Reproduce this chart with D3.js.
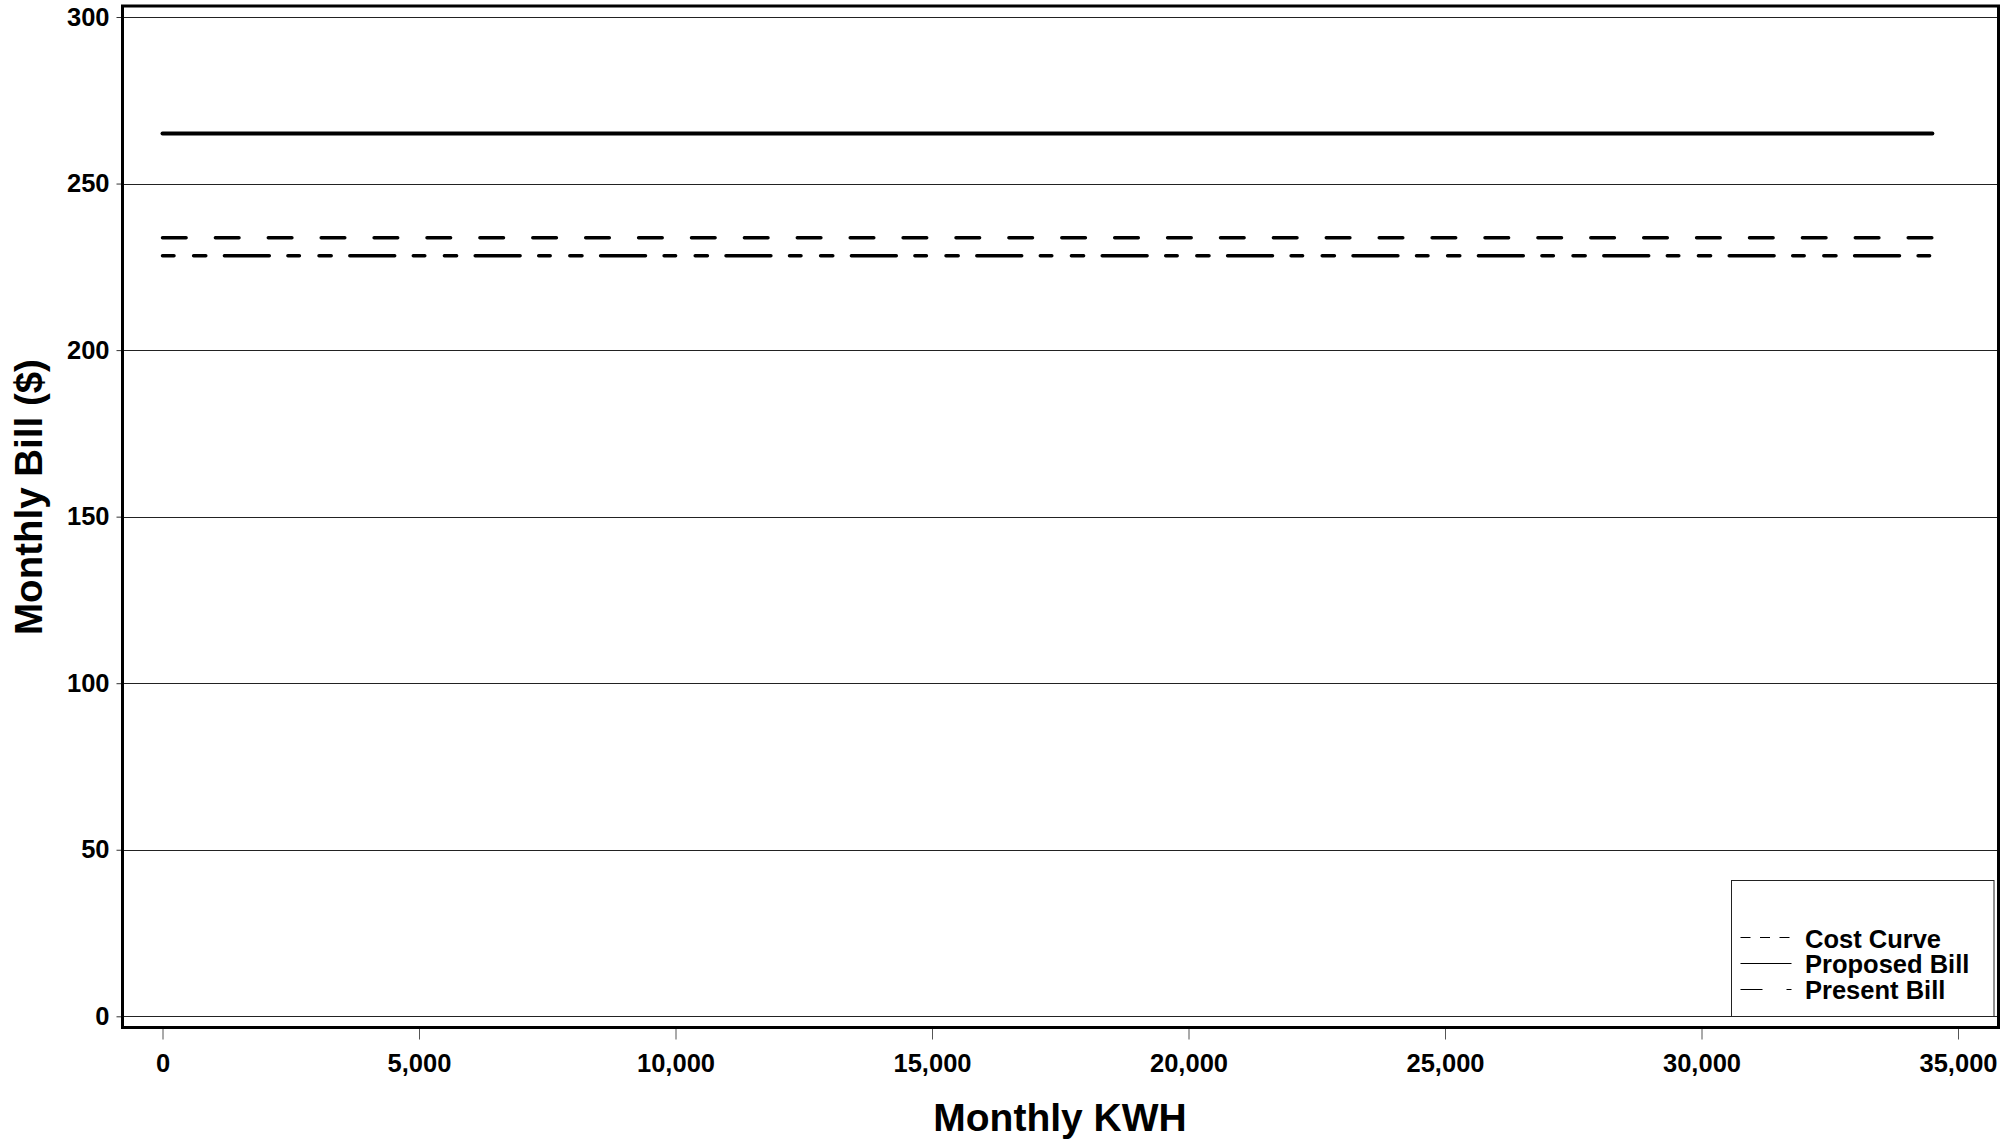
<!DOCTYPE html>
<html>
<head>
<meta charset="utf-8">
<script src="https://cdn.jsdelivr.net/npm/d3@7"></script>
<style>
  html, body { margin: 0; padding: 0; background: #fff; }
  svg { display: block; font-family: "Liberation Sans", Arial, Helvetica, sans-serif; font-weight: bold; }
</style>
</head>
<body>
<svg id="chart" width="2007" height="1142"></svg>
<script>
// ---- Data ----
const kwh = [0, 34500];
const costCurve = [233.7, 233.7];
const proposedBill = [265, 265];
const presentBill = [228.3, 228.3];
const xTicks = [0, 5000, 10000, 15000, 20000, 25000, 30000, 35000];
const yTicks = [0, 50, 100, 150, 200, 250, 300];
const seriesNames = ["Cost Curve", "Proposed Bill", "Present Bill"];

// ---- Layout ----
const svg = d3.select("#chart");
const x = d3.scaleLinear().domain([0, 35000]).range([162.5, 1958]);
const y = d3.scaleLinear().domain([0, 300]).range([1016.3, 17]);
const frame = { left: 122.5, top: 6, right: 1998.5, bottom: 1027.5 };

// gridlines
svg.append("g").selectAll("line").data(yTicks).join("line")
  .attr("x1", frame.left).attr("x2", frame.right)
  .attr("y1", d => Math.round(y(d)) + 0.5).attr("y2", d => Math.round(y(d)) + 0.5)
  .attr("stroke", "#222").attr("stroke-width", 1);

// y axis ticks + labels
const yAxis = d3.axisLeft(y).tickValues(yTicks).tickSize(5).tickPadding(7).tickFormat(d3.format("d"));
const gy = svg.append("g").attr("transform", `translate(${frame.left - 1},0)`).call(yAxis);
gy.select(".domain").remove();
gy.selectAll(".tick line").attr("stroke", "#333");
gy.selectAll(".tick text").attr("font-size", 25.5).attr("font-family", "Liberation Sans, Arial, sans-serif")
  .attr("font-weight", "bold").attr("fill", "#000");

// x axis ticks + labels
const xAxis = d3.axisBottom(x).tickValues(xTicks).tickSize(11).tickPadding(14).tickFormat(d3.format(","));
const gx = svg.append("g").attr("transform", `translate(0,${frame.bottom + 1})`).call(xAxis);
gx.select(".domain").remove();
gx.selectAll(".tick line").attr("stroke", "#555");
gx.selectAll(".tick text").attr("font-size", 25.5).attr("font-family", "Liberation Sans, Arial, sans-serif")
  .attr("font-weight", "bold").attr("fill", "#000");

// series lines
const line = d3.line().x(d => x(d[0])).y(d => y(d[1]));
const series = [
  { name: seriesNames[0], vals: costCurve, width: 3.5, dash: "23.6 29.3", legDash: "10 9.5" },
  { name: seriesNames[1], vals: proposedBill, width: 4, dash: null, legDash: null },
  { name: seriesNames[2], vals: presentBill, width: 3.5, dash: "11.5 19.6 12.2 18.6 44.9 18.6", legDash: "22 24 5 0" }
];
svg.append("g").selectAll("path").data(series).join("path")
  .attr("d", s => line(kwh.map((k, i) => [k, s.vals[i]])))
  .attr("fill", "none").attr("stroke", "#000")
  .attr("stroke-width", s => s.width)
  .attr("stroke-linecap", "round")
  .attr("stroke-dasharray", s => s.dash);

// legend
const leg = svg.append("g");
leg.append("rect").attr("x", 1731.5).attr("y", 880.5).attr("width", 262.5).attr("height", 136)
  .attr("fill", "#fff").attr("stroke", "#222").attr("stroke-width", 1);
const legY = [937, 963, 989];
const legBase = [948, 973, 998.5];
series.forEach((s, i) => {
  leg.append("line").attr("x1", 1740.5).attr("x2", 1791.5)
    .attr("y1", legY[i] + 0.5).attr("y2", legY[i] + 0.5)
    .attr("stroke", "#000").attr("stroke-width", 1)
    .attr("stroke-dasharray", s.legDash);
  leg.append("text").attr("x", 1805).attr("y", legBase[i])
    .attr("font-size", 25.5).attr("fill", "#000").text(s.name);
});

// frame
svg.append("rect").attr("x", frame.left).attr("y", frame.top)
  .attr("width", frame.right - frame.left).attr("height", frame.bottom - frame.top)
  .attr("fill", "none").attr("stroke", "#000").attr("stroke-width", 3);

// axis titles
svg.append("text").attr("x", 1060).attr("y", 1131).attr("text-anchor", "middle")
  .attr("font-size", 39).attr("fill", "#000").text("Monthly KWH");
svg.append("text").attr("transform", "translate(42,497) rotate(-90)").attr("text-anchor", "middle")
  .attr("font-size", 38.5).attr("fill", "#000").text("Monthly Bill ($)");
</script>
</body>
</html>
